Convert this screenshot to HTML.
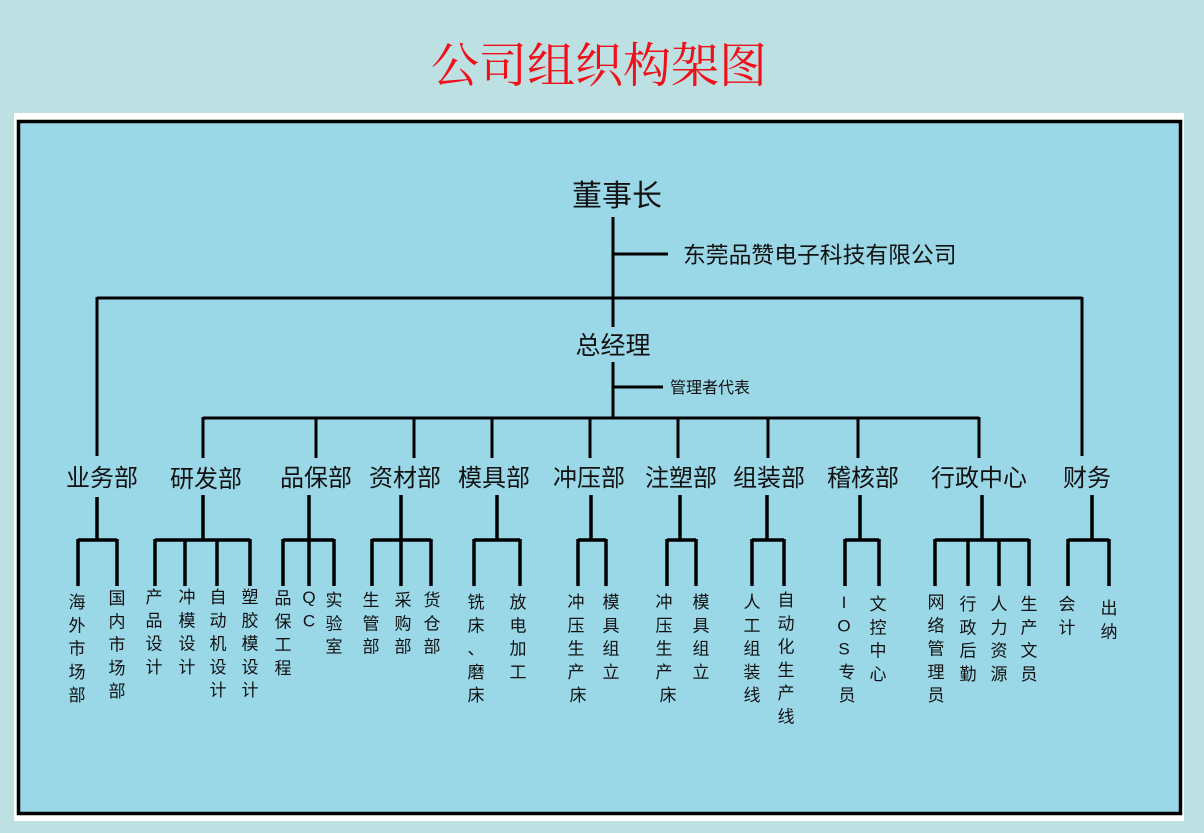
<!DOCTYPE html>
<html><head><meta charset="utf-8"><style>
html,body{margin:0;padding:0;background:#bde0e3;}
svg{display:block}
text{font-family:"Liberation Sans","Noto Sans CJK SC",sans-serif;fill:#111;}
</style></head><body>
<svg width="1204" height="833" viewBox="0 0 1204 833" xmlns="http://www.w3.org/2000/svg">
<rect x="0" y="0" width="1204" height="833" fill="#bde0e3"/>
<rect x="14" y="113" width="1170" height="708" fill="#ffffff"/>
<rect x="18.5" y="121.5" width="1162" height="692" fill="#9ad8e8" stroke="#000" stroke-width="3.5"/>
<text x="599" y="82" text-anchor="middle" font-size="48" style="font-family:'Liberation Serif','Noto Serif CJK SC',serif;fill:#f0101a">公司组织构架图</text>

<g stroke="#000" stroke-width="3" fill="none">
<path d="M613 217V327M613 254H668"/>
<path d="M97 298H1082M97 297V456M1082 297V456"/>
<path d="M613 362V418M613 387H663"/>
<path d="M203 418H979M203 417V458M316 417V458M414 417V458M492 417V458M590 417V458M678 417V458M768 417V458M858 417V458M979 417V458"/>
</g>
<g stroke="#000" stroke-width="3.5" fill="none">
<path d="M97 497V540M78 540H117M78 539V586M117 539V586"/>
<path d="M203 495V540M155 540H250M155 539V586M185 539V586M217 539V586M250 539V586"/>
<path d="M309 495V540M283 540H334M283 539V586M309 539V586M334 539V586"/>
<path d="M401 495V540M372 540H431M372 539V586M401 539V586M431 539V586"/>
<path d="M497 495V540M474 540H520M474 539V586M520 539V586"/>
<path d="M591 495V540M578 540H606M578 539V586M606 539V586"/>
<path d="M680 495V540M667 540H696M667 539V586M696 539V586"/>
<path d="M767 495V540M752 540H784M752 539V586M784 539V586"/>
<path d="M860 495V540M845 540H879M845 539V586M879 539V586"/>
<path d="M982 495V540M935 540H1029M935 539V586M968 539V586M999 539V586M1029 539V586"/>
<path d="M1092 495V540M1068 540H1109M1068 539V586M1109 539V586"/>
</g>

<text x="617" y="206" text-anchor="middle" font-size="30">董事长</text>
<text x="683" y="263" font-size="22.8">东莞品赞电子科技有限公司</text>
<text x="613" y="354" text-anchor="middle" font-size="25">总经理</text>
<text x="670" y="393" font-size="16">管理者代表</text>

<g font-size="24" text-anchor="middle">
<text x="102" y="486">业务部</text>
<text x="206" y="487">研发部</text>
<text x="316" y="486">品保部</text>
<text x="405" y="486">资材部</text>
<text x="494" y="486">模具部</text>
<text x="589" y="486">冲压部</text>
<text x="681" y="486">注塑部</text>
<text x="769" y="486">组装部</text>
<text x="863" y="486">稽核部</text>
<text x="979" y="486">行政中心</text>
<text x="1087" y="486">财务</text>
</g>

<g font-size="17" text-anchor="middle">
<text x="77" y="608"><tspan x="77">海</tspan><tspan x="77" dy="23.3">外</tspan><tspan x="77" dy="23.3">市</tspan><tspan x="77" dy="23.3">场</tspan><tspan x="77" dy="23.3">部</tspan></text>
<text x="117" y="604"><tspan x="117">国</tspan><tspan x="117" dy="23.3">内</tspan><tspan x="117" dy="23.3">市</tspan><tspan x="117" dy="23.3">场</tspan><tspan x="117" dy="23.3">部</tspan></text>
<text y="603"><tspan x="154">产</tspan><tspan x="154" dy="23.3">品</tspan><tspan x="154" dy="23.3">设</tspan><tspan x="154" dy="23.3">计</tspan></text>
<text y="603"><tspan x="187">冲</tspan><tspan x="187" dy="23.3">模</tspan><tspan x="187" dy="23.3">设</tspan><tspan x="187" dy="23.3">计</tspan></text>
<text y="603"><tspan x="218">自</tspan><tspan x="218" dy="23.3">动</tspan><tspan x="218" dy="23.3">机</tspan><tspan x="218" dy="23.3">设</tspan><tspan x="218" dy="23.3">计</tspan></text>
<text y="603"><tspan x="250">塑</tspan><tspan x="250" dy="23.3">胶</tspan><tspan x="250" dy="23.3">模</tspan><tspan x="250" dy="23.3">设</tspan><tspan x="250" dy="23.3">计</tspan></text>
<text y="604"><tspan x="283">品</tspan><tspan x="283" dy="23.3">保</tspan><tspan x="283" dy="23.3">工</tspan><tspan x="283" dy="23.3">程</tspan></text>
<text y="603"><tspan x="309">Q</tspan><tspan x="309" dy="23.3">C</tspan></text>
<text y="606"><tspan x="334">实</tspan><tspan x="334" dy="23.3">验</tspan><tspan x="334" dy="23.3">室</tspan></text>
<text y="606"><tspan x="371">生</tspan><tspan x="371" dy="23.3">管</tspan><tspan x="371" dy="23.3">部</tspan></text>
<text y="606"><tspan x="403">采</tspan><tspan x="403" dy="23.3">购</tspan><tspan x="403" dy="23.3">部</tspan></text>
<text y="606"><tspan x="432">货</tspan><tspan x="432" dy="23.3">仓</tspan><tspan x="432" dy="23.3">部</tspan></text>
<text y="608"><tspan x="476">铣</tspan><tspan x="476" dy="23.3">床</tspan><tspan x="476" dy="23.3">、</tspan><tspan x="476" dy="23.3">磨</tspan><tspan x="476" dy="23.3">床</tspan></text>
<text y="608"><tspan x="518">放</tspan><tspan x="518" dy="23.3">电</tspan><tspan x="518" dy="23.3">加</tspan><tspan x="518" dy="23.3">工</tspan></text>
<text y="608"><tspan x="576">冲</tspan><tspan x="576" dy="23.3">压</tspan><tspan x="576" dy="23.3">生</tspan><tspan x="576" dy="23.3">产</tspan><tspan x="578" dy="23.3">床</tspan></text>
<text y="608"><tspan x="611">模</tspan><tspan x="611" dy="23.3">具</tspan><tspan x="611" dy="23.3">组</tspan><tspan x="611" dy="23.3">立</tspan></text>
<text y="608"><tspan x="664">冲</tspan><tspan x="664" dy="23.3">压</tspan><tspan x="664" dy="23.3">生</tspan><tspan x="664" dy="23.3">产</tspan><tspan x="668" dy="23.3">床</tspan></text>
<text y="608"><tspan x="701">模</tspan><tspan x="701" dy="23.3">具</tspan><tspan x="701" dy="23.3">组</tspan><tspan x="701" dy="23.3">立</tspan></text>
<text y="608"><tspan x="752">人</tspan><tspan x="752" dy="23.3">工</tspan><tspan x="752" dy="23.3">组</tspan><tspan x="752" dy="23.3">装</tspan><tspan x="752" dy="23.3">线</tspan></text>
<text y="606"><tspan x="786">自</tspan><tspan x="786" dy="23.3">动</tspan><tspan x="786" dy="23.3">化</tspan><tspan x="786" dy="23.3">生</tspan><tspan x="786" dy="23.3">产</tspan><tspan x="786" dy="23.3">线</tspan></text>
<text y="608"><tspan x="844">I</tspan><tspan x="844" dy="23.3">O</tspan><tspan x="844" dy="23.3">S</tspan><tspan x="847" dy="23.3">专</tspan><tspan x="847" dy="23.3">员</tspan></text>
<text y="610"><tspan x="878">文</tspan><tspan x="878" dy="23.3">控</tspan><tspan x="878" dy="23.3">中</tspan><tspan x="878" dy="23.3">心</tspan></text>
<text y="608"><tspan x="936">网</tspan><tspan x="936" dy="23.3">络</tspan><tspan x="936" dy="23.3">管</tspan><tspan x="936" dy="23.3">理</tspan><tspan x="936" dy="23.3">员</tspan></text>
<text y="610"><tspan x="968">行</tspan><tspan x="968" dy="23.3">政</tspan><tspan x="968" dy="23.3">后</tspan><tspan x="968" dy="23.3">勤</tspan></text>
<text y="610"><tspan x="999">人</tspan><tspan x="999" dy="23.3">力</tspan><tspan x="999" dy="23.3">资</tspan><tspan x="999" dy="23.3">源</tspan></text>
<text y="610"><tspan x="1029">生</tspan><tspan x="1029" dy="23.3">产</tspan><tspan x="1029" dy="23.3">文</tspan><tspan x="1029" dy="23.3">员</tspan></text>
<text y="610"><tspan x="1067">会</tspan><tspan x="1067" dy="23.3">计</tspan></text>
<text y="614"><tspan x="1109">出</tspan><tspan x="1109" dy="23.3">纳</tspan></text>
</g>
</svg>
</body></html>
